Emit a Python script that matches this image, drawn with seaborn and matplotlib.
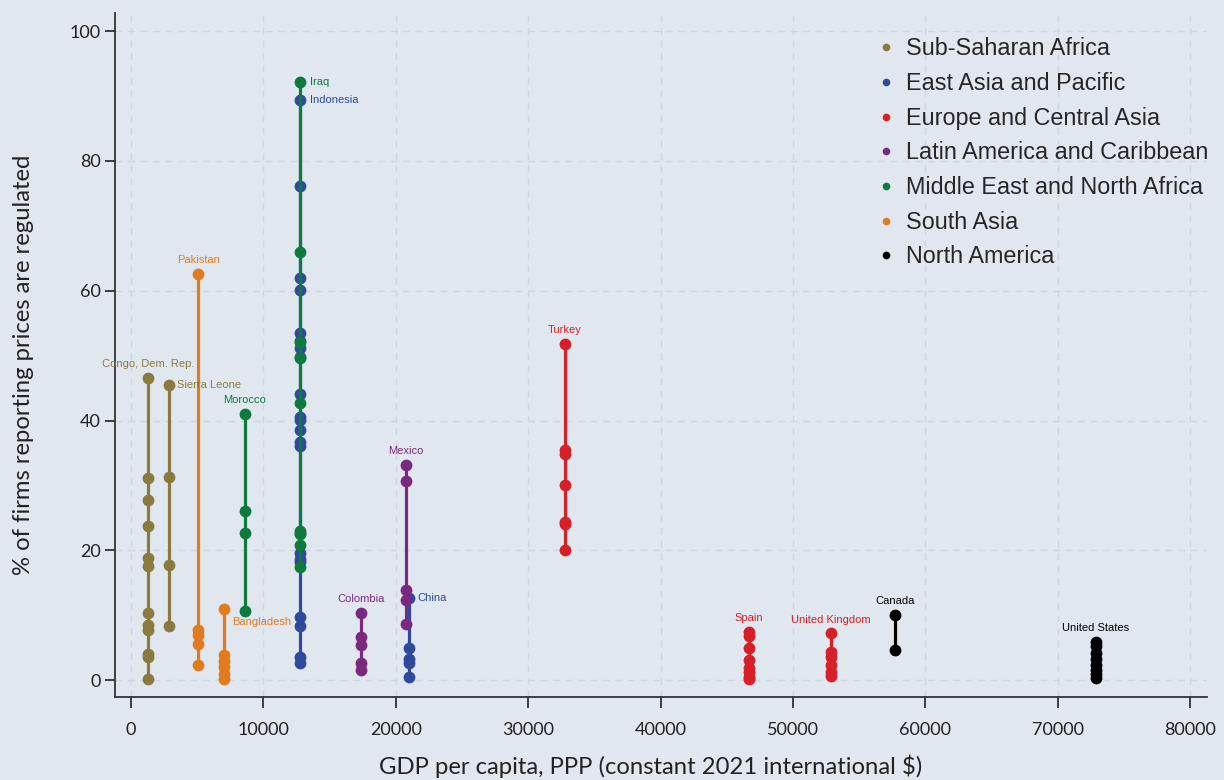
"""Price regulation vs GDP per capita, by country and region"""

import matplotlib

matplotlib.use("Agg")
import matplotlib.pyplot as plt
import pandas as pd
import seaborn as sns
from matplotlib.lines import Line2D

# %% Data

regions = [
    "Sub-Saharan Africa",
    "East Asia and Pacific",
    "Europe and Central Asia",
    "Latin America and Caribbean",
    "Middle East and North Africa",
    "South Asia",
    "North America",
]
region_colors = ["#8B7A3E", "#2F4A9C", "#D61F26", "#7A2A7E", "#0D7A3E", "#E27A1F", "#000000"]

# country -> region, GDP per capita
countries = [
    "Congo, Dem. Rep.", "Sierra Leone", "Pakistan", "Bangladesh", "Morocco",
    "Indonesia", "Iraq", "Colombia", "China", "Mexico", "Turkey", "Spain",
    "United Kingdom", "Canada", "United States",
]
country_region = [
    "Sub-Saharan Africa", "Sub-Saharan Africa", "South Asia", "South Asia",
    "Middle East and North Africa", "East Asia and Pacific",
    "Middle East and North Africa", "Latin America and Caribbean",
    "East Asia and Pacific", "Latin America and Caribbean",
    "Europe and Central Asia", "Europe and Central Asia",
    "Europe and Central Asia", "North America", "North America",
]
gdp = [1300, 2850, 5100, 7020, 8610, 12760, 12800, 17400, 21020, 20770,
       32780, 46700, 52840, 57700, 72880]

# % of firms reporting regulated prices (one value per product / sector)
congo = [46.6, 31.2, 27.8, 23.8, 18.8, 17.6, 10.3, 8.5, 7.8, 4.1, 3.6, 0.2]
sierra_leone = [45.4, 31.3, 17.7, 8.3]
pakistan = [62.6, 7.7, 7.0, 5.6, 2.3]
bangladesh = [10.9, 3.9, 3.0, 2.0, 1.0, 0.2]
morocco = [41.0, 26.1, 22.7, 10.6]
indonesia = [89.4, 76.1, 62.0, 60.1, 53.5, 52.2, 51.1, 49.8, 44.1, 40.6, 40.1,
             38.5, 36.7, 36.0, 22.6, 19.6, 18.7, 18.2, 9.8, 8.3, 3.6, 2.6]
iraq = [92.2, 65.9, 52.1, 49.7, 42.7, 23.0, 22.5, 20.8, 17.4]
colombia = [10.3, 6.7, 5.4, 2.7, 1.5]
china = [12.6, 4.9, 3.3, 2.6, 0.5]
mexico = [33.1, 30.7, 13.9, 12.3, 8.7]
turkey = [51.8, 35.4, 34.8, 30.0, 24.4, 24.0, 20.0]
spain = [7.4, 6.8, 4.9, 3.1, 1.8, 1.2, 0.5, 0.1]
united_kingdom = [7.2, 4.4, 3.6, 2.3, 1.3, 0.6]
canada = [10.0, 4.6]
united_states = [5.9, 5.2, 4.2, 3.2, 2.4, 1.6, 0.9, 0.3]

values = [congo, sierra_leone, pakistan, bangladesh, morocco, indonesia, iraq,
          colombia, china, mexico, turkey, spain, united_kingdom, canada,
          united_states]

# label placement: offset (points) from top marker, alignment
label_pos = {
    "Sierra Leone": ((6, 0), "left", "center"),
    "Bangladesh": ((6, -9), "left", "center"),
    "Indonesia": ((7, 0), "left", "center"),
    "Iraq": ((7, 0), "left", "center"),
    "China": ((6, 0), "left", "center"),
}

rows = []
for c, r, g, vs in zip(countries, country_region, gdp, values):
    for v in vs:
        rows.append({"country": c, "region": r, "gdp": g, "pct": v})
data = pd.DataFrame(rows)
palette = dict(zip(regions, region_colors))

# %% Plot

sns.set_theme(style="ticks")
bg = "#E1E7EF"
plt.rcParams["font.family"] = ["Lato", "DejaVu Sans"]

fig = plt.figure(figsize=(12.24, 7.8), dpi=100, facecolor=bg)
ax = fig.add_axes([0.0937, 0.1064, 0.8925, 0.877])
ax.set_facecolor(bg)

for c in countries:
    sub = data[data["country"] == c]
    col = palette[sub["region"].iloc[0]]
    sns.lineplot(
        data=sub, x="gdp", y="pct", orient="y", estimator=None, sort=True,
        color=col, linewidth=2.3, marker="o", markersize=8.5,
        markeredgewidth=0, ax=ax, legend=False,
    )
    top = sub["pct"].max()
    xy_off, ha, va = label_pos.get(c, ((0, 10), "center", "center"))
    ax.annotate(
        c, (sub["gdp"].iloc[0], top), xytext=xy_off, textcoords="offset points",
        ha=ha, va=va, color=col, fontsize=8, family="Liberation Sans",
    )

ax.set_xlim(-1230, 81280)
ax.set_ylim(-2.6, 102.8)
ax.set_xticks(range(0, 80001, 10000))
ax.set_yticks(range(0, 101, 20))
ax.grid(True, linestyle=(0, (5, 4)), color="#D0D7E0", linewidth=1.0)
ax.set_axisbelow(True)
for s in ["top", "right"]:
    ax.spines[s].set_visible(False)
for s in ["left", "bottom"]:
    ax.spines[s].set_linewidth(1.3)
    ax.spines[s].set_color("#333333")
ax.tick_params(axis="x", length=8, width=1.2, labelsize=13, pad=10, colors="#222222")
ax.tick_params(axis="y", length=7, width=1.2, labelsize=13, pad=3, colors="#222222")
ax.set_xlabel("GDP per capita, PPP (constant 2021 international $)", fontsize=17.2, color="#222222", labelpad=12)
ax.set_ylabel("% of firms reporting prices are regulated", fontsize=17.2, color="#222222", labelpad=26)
ax.xaxis.label.set_x(0.491)
ax.yaxis.label.set_y(0.485)

handles = [
    Line2D([], [], marker="o", linestyle="", color=col, markersize=5.5, markeredgewidth=0)
    for col in region_colors
]
ax.legend(
    handles, regions, loc="upper left", bbox_to_anchor=(0.714, 0.952),
    bbox_transform=fig.transFigure, frameon=False,
    prop={"family": "Liberation Sans", "size": 16.8}, handlelength=1.0,
    handletextpad=0.38, labelspacing=0.50, borderaxespad=0, borderpad=0,
)

fig.savefig("out.png", dpi=100, facecolor=bg)
